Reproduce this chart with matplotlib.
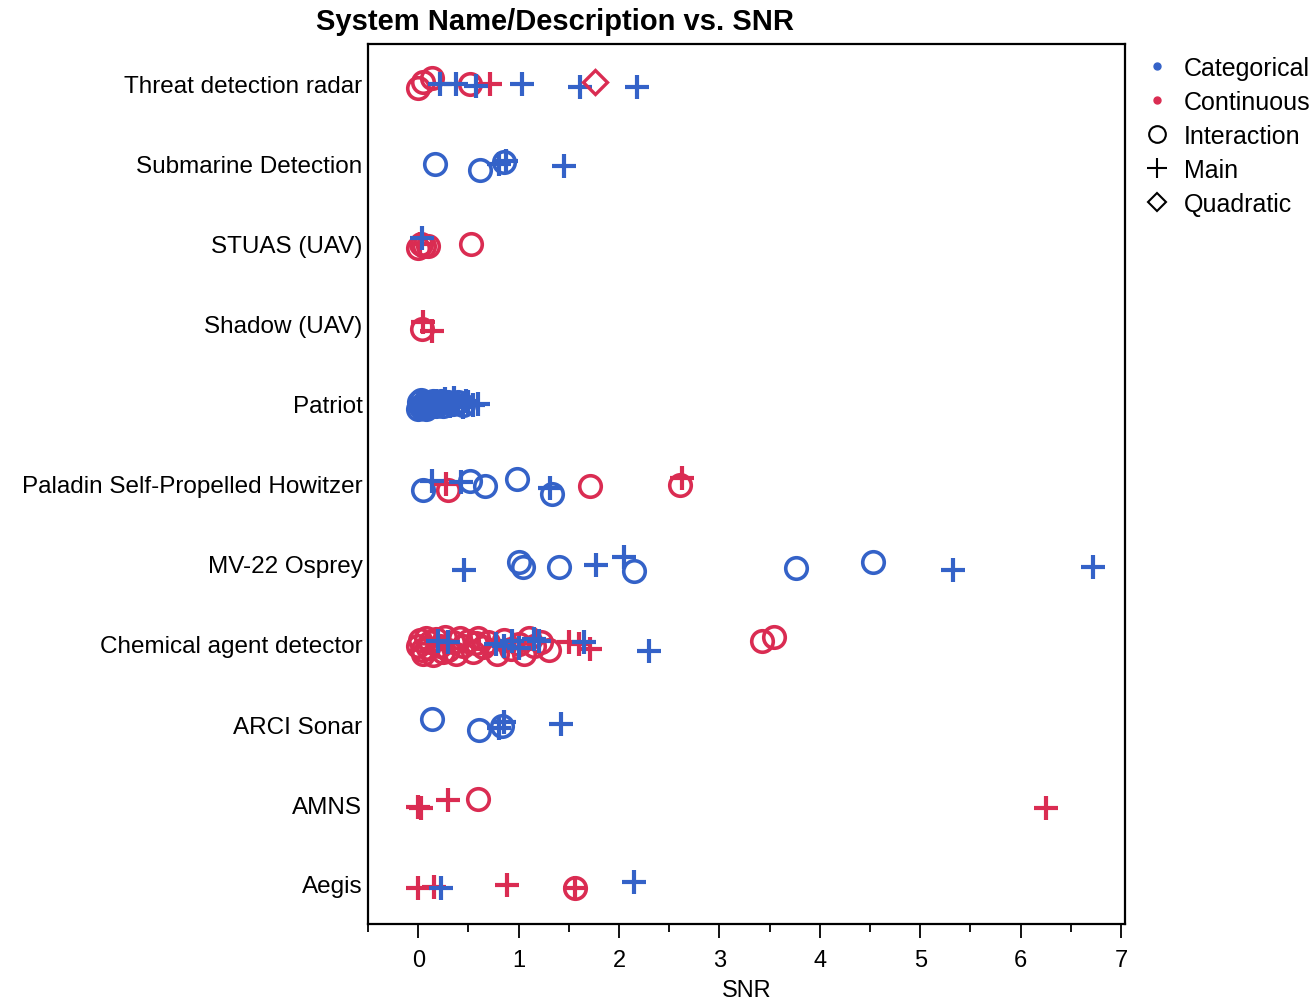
import matplotlib
matplotlib.use("Agg")
import matplotlib.pyplot as plt
from matplotlib.lines import Line2D

plt.rcParams['font.family'] = ['Liberation Sans', 'DejaVu Sans']

# categories, bottom to top
systems = ["Aegis", "AMNS", "ARCI Sonar", "Chemical agent detector", "MV-22 Osprey",
           "Paladin Self-Propelled Howitzer", "Patriot", "Shadow (UAV)", "STUAS (UAV)",
           "Submarine Detection", "Threat detection radar"]

# Categorical / Interaction
cat_int_sys = (["Submarine Detection"] * 3 + ["Patriot"] * 20
               + ["Paladin Self-Propelled Howitzer"] * 5 + ["MV-22 Osprey"] * 6 + ["ARCI Sonar"] * 3)
cat_int_snr = [0.17, 0.62, 0.85,
               0.0, 0.01, 0.02, 0.03, 0.04, 0.05, 0.07, 0.08, 0.10, 0.12, 0.14, 0.15, 0.18, 0.20, 0.23,
               0.25, 0.30, 0.35, 0.40, 0.45,
               0.05, 0.52, 0.67, 0.98, 1.33,
               1.00, 1.04, 1.40, 2.15, 3.76, 4.53,
               0.14, 0.61, 0.83]
cat_int_jit = [0.0, -0.07, 0.03,
               -0.06, 0.02, -0.03, 0.05, -0.05, -0.01, 0.03, -0.06, -0.04, 0.01, -0.03, 0.04, -0.02, 0.02,
               0.04, -0.03, 0.03, 0.0, 0.02, -0.01,
               -0.08, 0.04, -0.02, 0.06, -0.12,
               0.02, -0.04, -0.04, -0.09, -0.05, 0.03,
               0.06, -0.07, -0.02]

# Categorical / Main
cat_main_sys = (["Threat detection radar"] * 6 + ["Submarine Detection"] * 3 + ["STUAS (UAV)"]
                + ["Patriot"] * 14 + ["Paladin Self-Propelled Howitzer"] * 3 + ["MV-22 Osprey"] * 5
                + ["Chemical agent detector"] * 10 + ["ARCI Sonar"] * 3 + ["Aegis"] * 2)
cat_main_snr = [0.22, 0.38, 0.58, 1.03, 1.61, 2.18,
                0.80, 0.87, 1.45,
                0.04,
                0.05, 0.08, 0.12, 0.18, 0.22, 0.27, 0.32, 0.36, 0.40, 0.45, 0.48, 0.50, 0.55, 0.60,
                0.14, 0.43, 1.31,
                0.46, 1.77, 2.05, 5.33, 6.72,
                0.20, 0.30, 0.77, 0.85, 0.93, 1.00, 1.15, 1.20, 1.65, 2.30,
                0.80, 0.85, 1.42,
                0.23, 2.15]
cat_main_jit = [0.0, 0.0, -0.03, 0.0, -0.04, -0.04,
                0.0, 0.04, -0.03,
                0.07,
                -0.04, 0.02, -0.03, 0.04, 0.0, 0.06, -0.02, 0.08, 0.01, -0.04, 0.04, 0.03, -0.01, 0.0,
                0.04, 0.03, -0.05,
                -0.08, -0.01, 0.09, -0.08, -0.04,
                0.04, 0.02, 0.0, -0.03, 0.04, -0.05, 0.06, 0.04, 0.02, -0.09,
                -0.05, 0.02, 0.0,
                -0.05, 0.03]

# Continuous / Interaction
cont_int_sys = (["Threat detection radar"] * 4 + ["STUAS (UAV)"] * 5 + ["Shadow (UAV)"]
                + ["Paladin Self-Propelled Howitzer"] * 3 + ["Chemical agent detector"] * 34
                + ["AMNS"] + ["Aegis"])
cont_int_snr = [0.0, 0.05, 0.14, 0.52,
                0.0, 0.03, 0.06, 0.10, 0.53,
                0.04,
                0.30, 1.71, 2.61,
                0.0, 0.02, 0.04, 0.05, 0.08, 0.10, 0.12, 0.15, 0.18, 0.22, 0.25, 0.27, 0.30, 0.35, 0.38,
                0.42, 0.45, 0.50, 0.55, 0.58, 0.60, 0.65, 0.70, 0.78, 0.85, 0.92, 1.00, 1.05, 1.10, 1.15,
                1.22, 1.30,
                3.42, 3.54,
                0.60,
                1.56]
cont_int_jit = [-0.05, 0.02, 0.08, 0.0,
                -0.05, 0.0, -0.03, -0.02, 0.0,
                -0.06,
                -0.08, -0.02, -0.01,
                -0.02, 0.05, -0.08, -0.12, 0.08, -0.05, 0.02, -0.14, 0.06, -0.03, -0.1, 0.09, -0.08, 0.03,
                -0.12, 0.07, -0.02, 0.04, -0.1, 0.01, 0.08, -0.04, 0.02, -0.12, 0.05, -0.06, 0.0, -0.13,
                0.07, -0.03, 0.03, -0.08,
                0.04, 0.09,
                0.06,
                -0.05]

# Continuous / Main
cont_main_sys = (["Threat detection radar"] + ["STUAS (UAV)"] + ["Shadow (UAV)"] * 2
                 + ["Paladin Self-Propelled Howitzer"] * 2 + ["Chemical agent detector"] * 3
                 + ["AMNS"] * 4 + ["Aegis"] * 4)
cont_main_snr = [0.72, 0.02, 0.05, 0.14, 0.28, 2.63, 1.50, 1.60, 1.71,
                 0.0, 0.03, 0.30, 6.25, 0.0, 0.16, 0.88, 1.56]
cont_main_jit = [0.0, 0.0, 0.03, -0.09, 0.0, 0.08, 0.02, 0.0, -0.06,
                 -0.04, -0.05, 0.05, -0.05, -0.05, -0.04, -0.01, -0.05]

# Continuous / Quadratic
cont_quad_sys = ["Threat detection radar"]
cont_quad_snr = [1.76]
cont_quad_jit = [0.03]

blue = "#3462C8"
red = "#DA2C52"


def ypos(names, jit):
    return [systems.index(n) + j for n, j in zip(names, jit)]


fig = plt.figure(figsize=(13.16, 10.03), dpi=100)
ax = fig.add_axes([368 / 1316, 1 - 925 / 1003, (1125 - 368) / 1316, (925 - 45) / 1003])

circ = dict(ls='', marker='o', mfc='none', ms=15.5, mew=2.6)
plus = dict(ls='', marker='+', ms=17, mew=3.0)

ax.plot(cont_int_snr, ypos(cont_int_sys, cont_int_jit), mec=red, **circ)
ax.plot(cat_int_snr, ypos(cat_int_sys, cat_int_jit), mec=blue, **circ)
ax.plot(cont_main_snr, ypos(cont_main_sys, cont_main_jit), mec=red, **plus)
ax.plot(cat_main_snr, ypos(cat_main_sys, cat_main_jit), mec=blue, **plus)
ax.plot(cont_quad_snr, ypos(cont_quad_sys, cont_quad_jit), ls='', marker='D', mfc='none',
        mec=red, ms=12.5, mew=2.4)

ax.set_xlim(-0.5, 7.04)
ax.set_ylim(-0.5, 10.5)
ax.set_yticks(range(len(systems)))
ax.set_yticklabels(systems, fontsize=17.5)
ax.tick_params(axis='y', length=0, pad=4)
ax.set_xticks(range(8))
ax.set_xticks([x + 0.5 for x in range(-1, 7)], minor=True)
ax.tick_params(axis='x', which='major', length=10, width=1.3, labelsize=17, pad=8)
ax.tick_params(axis='x', which='minor', length=6, width=1.3)
ax.set_xlabel("SNR", fontsize=17, labelpad=6)
for s in ax.spines.values():
    s.set_linewidth(1.6)

fig.text(555 / 1316, 1 - 22 / 1003, "System Name/Description vs. SNR", ha='center', va='center',
         fontsize=21, fontweight='bold')

handles = [
    Line2D([], [], ls='', marker='o', color=blue, ms=5),
    Line2D([], [], ls='', marker='o', color=red, ms=5),
    Line2D([], [], ls='', marker='o', mfc='none', mec='black', ms=12, mew=1.5),
    Line2D([], [], ls='', marker='+', color='black', ms=14, mew=1.5),
    Line2D([], [], ls='', marker='D', mfc='none', mec='black', ms=9, mew=1.5),
]
labels = ["Categorical", "Continuous", "Interaction", "Main", "Quadratic"]
fig.legend(handles, labels, loc='upper left', bbox_to_anchor=(1144 / 1316, 1 - 57 / 1003),
           frameon=False, fontsize=18, handlelength=1.0, handletextpad=0.6,
           labelspacing=0.4, borderpad=0, borderaxespad=0)

fig.savefig("out.png", dpi=100)
